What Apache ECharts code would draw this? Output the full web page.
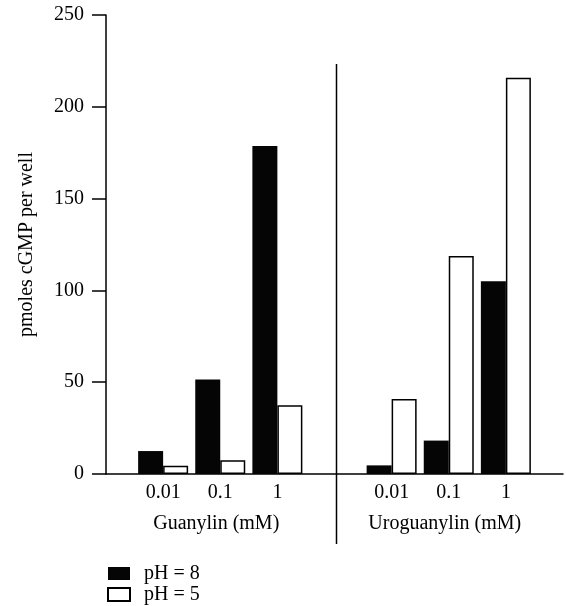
<!DOCTYPE html>
<html>
<head>
<meta charset="utf-8">
<script src="https://cdn.jsdelivr.net/npm/echarts@6/dist/echarts.min.js"></script>
<style>
  html, body { margin: 0; padding: 0; background: #fff; }
  #chart { width: 566px; height: 606px; }
</style>
</head>
<body>
<div id="chart"></div>
<script>
// slots on the x axis: empty slots at start, middle (divider) and end
const slots = ['', '0.01', '0.1', '1', '', '0.01', '0.1', '1', '']
const groupNames = ['Guanylin (mM)', 'Uroguanylin (mM)']
const groupCenters = [2, 6]   // slot index under each group label
const dividerSlot = 4
const ph8 = [null, 12.5, 51.5, 178.6, null, 4.7, 18.2, 105, null]
const ph5 = [null, 4.5, 7.5, 37.4, null, 40.8, 118.7, 215.8, null]
const yTicks = { min: 0, max: 250, step: 50 }

const FONT = '"Liberation Serif", "DejaVu Serif", serif'
const FS = 20

const chart = echarts.init(document.getElementById('chart'))
chart.setOption({
  animation: false,
  backgroundColor: '#fff',
  textStyle: { fontFamily: FONT, color: '#000' },
  grid: { left: 106, right: 0, top: 15, bottom: 132, containLabel: false },
  legend: {
    orient: 'vertical', left: 107, top: 563, height: 100, padding: 0,
    itemWidth: 22, itemHeight: 13, itemGap: 0,
    icon: 'rect',
    textStyle: { fontFamily: FONT, fontSize: FS, lineHeight: 21, color: '#000', padding: [0, 0, 0, 9] },
    data: ['pH = 8', 'pH = 5']
  },
  xAxis: {
    type: 'category', data: slots, boundaryGap: false,
    axisLine: { lineStyle: { color: '#000', width: 1.5 } },
    axisTick: { show: false },
    axisLabel: { interval: 0, margin: 9, fontFamily: FONT, fontSize: FS, color: '#000' },
    splitLine: { show: false }
  },
  yAxis: {
    type: 'value', min: yTicks.min, max: yTicks.max, interval: yTicks.step,
    name: 'pmoles cGMP per well', nameLocation: 'middle', nameGap: 69, nameRotate: 90,
    nameTextStyle: { fontFamily: FONT, fontSize: FS, color: '#000' },
    axisLine: { show: true, lineStyle: { color: '#000', width: 1.5 } },
    axisTick: { show: true, inside: false, length: 14, lineStyle: { color: '#000', width: 1.5 } },
    axisLabel: { margin: 22, fontFamily: FONT, fontSize: FS, color: '#000' },
    splitLine: { show: false }
  },
  series: [
    { name: 'pH = 8', type: 'bar', data: ph8, barWidth: 25, barGap: '0%',
      itemStyle: { color: '#050505', borderColor: '#050505', borderWidth: 0 } },
    { name: 'pH = 5', type: 'bar', data: ph5, barWidth: 25, barGap: '0%',
      itemStyle: { color: '#fff', borderColor: '#000', borderWidth: 1.5 } }
  ]
})

// divider line and group captions, placed from the axis scale
const dx = chart.convertToPixel({ xAxisIndex: 0 }, dividerSlot) + 2
const graphics = [{
  type: 'line', shape: { x1: dx, y1: 64, x2: dx, y2: 544 },
  style: { stroke: '#000', lineWidth: 1.5 }
}]
groupNames.forEach((g, i) => {
  const gx = chart.convertToPixel({ xAxisIndex: 0 }, groupCenters[i]) - 4
  graphics.push({
    type: 'text', x: gx, y: 524,
    style: { text: g, font: FS + 'px ' + FONT, fill: '#000', align: 'center', verticalAlign: 'middle' }
  })
})
chart.setOption({ graphic: graphics })
</script>
</body>
</html>
